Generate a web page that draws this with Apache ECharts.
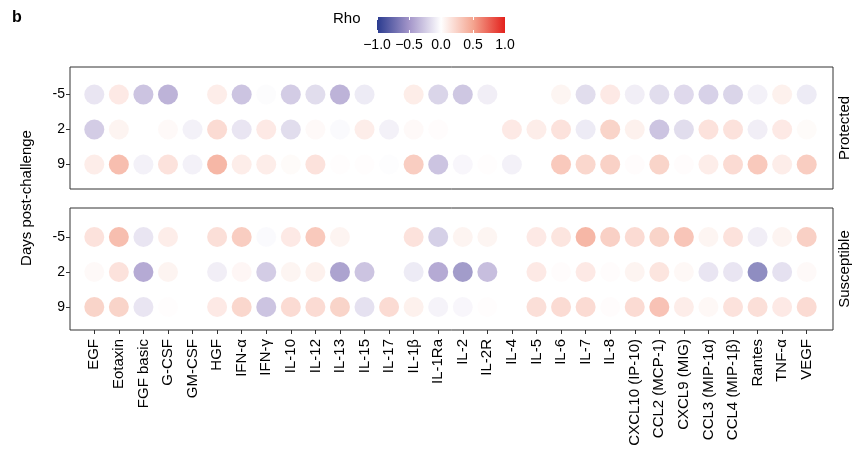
<!DOCTYPE html>
<html>
<head>
<meta charset="utf-8">
<script src="https://cdn.jsdelivr.net/npm/echarts@6/dist/echarts.min.js"></script>
<style>
  html, body { margin: 0; padding: 0; background: #fff; }
  #main { width: 858px; height: 466px; }
</style>
</head>
<body>
<div id="main"></div>
<script>
var cytokines = ['EGF', 'Eotaxin', 'FGF basic', 'G-CSF', 'GM-CSF', 'HGF', 'IFN-α', 'IFN-γ', 'IL-10', 'IL-12',
    'IL-13', 'IL-15', 'IL-17', 'IL-1β', 'IL-1Ra', 'IL-2', 'IL-2R', 'IL-4', 'IL-5', 'IL-6',
    'IL-7', 'IL-8', 'CXCL10 (IP-10)', 'CCL2 (MCP-1)', 'CXCL9 (MIG)', 'CCL3 (MIP-1α)', 'CCL4 (MIP-1β)', 'Rantes', 'TNF-α', 'VEGF'];
var days = ['9', '2', '-5'];
var rhoTicks = [-1, -0.5, 0, 0.5, 1];

// Spearman rho per cytokine, null = not shown
var protectedM5 = [-0.15, 0.15, -0.35, -0.45, null, 0.12, -0.35, -0.02, -0.3, -0.2,
    -0.45, -0.12, null, 0.13, -0.25, -0.33, -0.1, null, null, 0.07,
    -0.2, 0.15, -0.1, -0.2, -0.22, -0.27, -0.25, -0.08, 0.1, -0.12];
var protected2 = [-0.3, 0.08, null, 0.04, -0.08, 0.25, -0.15, 0.15, -0.2, 0.04,
    -0.03, 0.12, -0.08, 0.04, 0.02, null, null, 0.15, 0.12, 0.2,
    -0.12, 0.3, 0.1, -0.35, -0.2, 0.2, 0.2, -0.1, 0.15, 0.03];
var protected9 = [0.12, 0.45, -0.08, 0.2, -0.08, 0.5, 0.12, 0.12, 0.03, 0.2,
    0.01, 0.01, -0.01, 0.35, -0.35, -0.05, 0.01, -0.08, null, 0.38,
    0.28, 0.32, 0.02, 0.3, 0.02, 0.12, 0.25, 0.38, 0.12, 0.35];
var susceptibleM5 = [0.2, 0.45, -0.15, 0.12, null, 0.22, 0.35, -0.03, 0.15, 0.38,
    0.08, null, null, 0.2, -0.28, 0.08, 0.07, null, 0.15, 0.18,
    0.5, 0.33, 0.25, 0.3, 0.4, 0.07, 0.2, -0.1, 0.08, 0.33];
var susceptible2 = [0.04, 0.2, -0.5, 0.08, null, -0.1, 0.06, -0.3, 0.07, 0.1,
    -0.55, -0.35, null, -0.12, -0.5, -0.6, -0.38, null, 0.15, 0.02,
    0.15, 0.02, 0.08, 0.18, 0.05, -0.15, -0.15, -0.7, -0.18, 0.04];
var susceptible9 = [0.3, 0.3, -0.15, 0.01, null, 0.15, 0.28, -0.35, 0.25, 0.25,
    0.3, -0.18, 0.25, 0.1, -0.07, -0.05, 0.01, null, 0.22, 0.25,
    0.25, 0.02, 0.25, 0.42, 0.12, 0.05, 0.2, 0.22, 0.15, 0.25];

var rhoColors = ['#2a3b8f', '#a395c9', '#ffffff', '#f4a590', '#e3211c'];
var font = 'Liberation Sans, Arial, sans-serif';

function toPoints(rows) {
    var pts = [];
    rows.forEach(function (r) {
        r.values.forEach(function (v, i) {
            if (v !== null) pts.push([cytokines[i], r.day, v]);
        });
    });
    return pts;
}

var protectedData = toPoints([
    { day: '-5', values: protectedM5 },
    { day: '2', values: protected2 },
    { day: '9', values: protected9 }
]);
var susceptibleData = toPoints([
    { day: '-5', values: susceptibleM5 },
    { day: '2', values: susceptible2 },
    { day: '9', values: susceptible9 }
]);

var dom = document.getElementById('main');
var myChart = echarts.init(dom, null, { renderer: 'canvas' });

function catAxis(gridIndex, showLabels) {
    return {
        type: 'category', gridIndex: gridIndex, data: cytokines,
        offset: showLabels ? 5.5 : 0,
        axisLine: { show: false },
        axisTick: { show: showLabels, alignWithLabel: true, length: 4, lineStyle: { color: '#333' } },
        axisLabel: { show: showLabels, rotate: 90, interval: 0, margin: 9, color: '#000', fontFamily: font, fontSize: 15 },
        splitLine: { show: false }
    };
}
function dayAxis(gridIndex) {
    return {
        type: 'category', gridIndex: gridIndex, data: days, offset: 12,
        axisLine: { show: false },
        axisTick: { show: true, alignWithLabel: true, length: 4, lineStyle: { color: '#333' } },
        axisLabel: { margin: 5, color: '#000', fontFamily: font, fontSize: 14 },
        splitLine: { show: false }
    };
}

var option = {
    backgroundColor: '#fff',
    animation: false,
    grid: [
        { left: 82, width: 737, top: 77, height: 105 },
        { left: 82, width: 737, top: 219.5, height: 105 },
        {
            left: 377, width: 128, top: 17, height: 16, show: true, borderWidth: 0,
            backgroundColor: new echarts.graphic.LinearGradient(0, 0, 1, 0, rhoColors.map(function (c, i) {
                return { offset: i / (rhoColors.length - 1), color: c };
            }))
        }
    ],
    xAxis: [
        catAxis(0, false),
        catAxis(1, true),
        {
            type: 'value', gridIndex: 2, min: rhoTicks[0], max: rhoTicks[rhoTicks.length - 1], interval: 0.5,
            axisLine: { show: false },
            axisTick: { show: true, inside: true, length: 3, lineStyle: { color: '#fff' } },
            axisLabel: { margin: 5, color: '#000', fontFamily: font, fontSize: 14, formatter: function (v) {
                return v < 0 ? '\u2212' + Math.abs(v).toFixed(1) : v.toFixed(1);
            } },
            splitLine: { show: false }
        },
        {
            type: 'value', gridIndex: 2, min: -1, max: 1, interval: 0.5, position: 'top',
            axisLine: { show: false },
            axisTick: { show: true, inside: true, length: 3, lineStyle: { color: '#fff' } },
            axisLabel: { show: false },
            splitLine: { show: false }
        }
    ],
    yAxis: [
        dayAxis(0),
        dayAxis(1),
        { type: 'value', gridIndex: 2, show: false }
    ],
    visualMap: {
        show: false, type: 'continuous', min: -1, max: 1, dimension: 2,
        seriesIndex: [0, 1],
        inRange: { color: rhoColors }
    },
    series: [
        { name: 'Protected', type: 'scatter', xAxisIndex: 0, yAxisIndex: 0, symbolSize: 20, data: protectedData },
        { name: 'Susceptible', type: 'scatter', xAxisIndex: 1, yAxisIndex: 1, symbolSize: 20, data: susceptibleData }
    ],
    graphic: [
        { type: 'rect', shape: { x: 70, y: 67, width: 763, height: 122 }, style: { fill: 'none', stroke: '#333', lineWidth: 1 } },
        { type: 'rect', shape: { x: 70, y: 208, width: 763, height: 122 }, style: { fill: 'none', stroke: '#333', lineWidth: 1 } },
        { type: 'text', x: 12, y: 10, style: { text: 'b', font: 'bold 16px ' + font, fill: '#000' } },
        { type: 'text', x: 333, y: 19, style: { text: 'Rho', font: '15px ' + font, fill: '#000', verticalAlign: 'middle' } },
        { type: 'text', x: 27, y: 198, rotation: Math.PI / 2,
          style: { text: 'Days post-challenge', font: '15px ' + font, fill: '#000', align: 'center', verticalAlign: 'middle' } },
        { type: 'text', x: 845, y: 128, rotation: Math.PI / 2,
          style: { text: 'Protected', font: '15px ' + font, fill: '#000', align: 'center', verticalAlign: 'middle' } },
        { type: 'text', x: 845, y: 269, rotation: Math.PI / 2,
          style: { text: 'Susceptible', font: '15px ' + font, fill: '#000', align: 'center', verticalAlign: 'middle' } }
    ]
};

myChart.setOption(option);
window.addEventListener('resize', myChart.resize);
</script>
</body>
</html>
